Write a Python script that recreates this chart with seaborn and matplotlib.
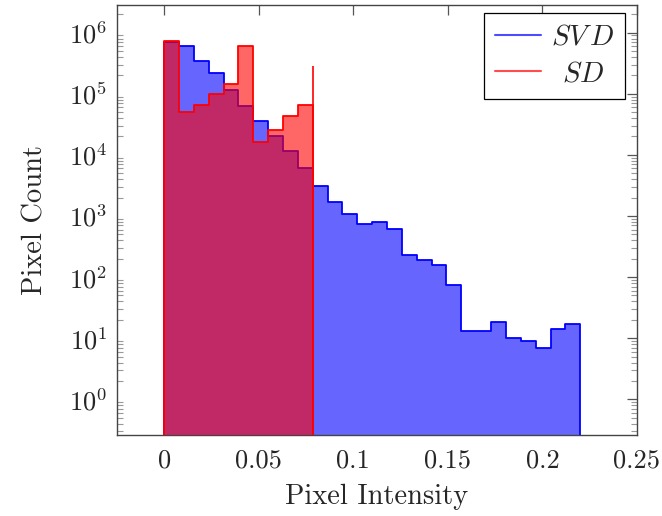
import numpy as np
import pandas as pd
import matplotlib
matplotlib.use("Agg")
import matplotlib.pyplot as plt
import seaborn as sns
from matplotlib.lines import Line2D
from matplotlib.ticker import LogLocator, FixedLocator, FixedFormatter, LogFormatterSciNotation, NullFormatter

# ---- data ----
svd_counts = [7.0e5, 6.0e5, 3.5e5, 2.16e5, 1.15e5, 6.3e4, 3.55e4, 2.06e4, 1.17e4, 6.1e3,
              3.06e3, 1.71e3, 1.08e3, 731, 807, 612, 230, 188, 156, 74,
              13, 13, 18.2, 10, 9.1, 7.0, 14, 17.1]
sd_counts = [7.4e5, 5.1e4, 6.6e4, 9.9e4, 1.45e5, 6.1e5, 1.6e4, 2.6e4, 4.3e4, 6.5e4]
sd_spike = 2.85e5
svd_range = (0.0, 0.22)
sd_range = (0.0, 0.0786)
x_ticks = [0, 0.05, 0.1, 0.15, 0.2, 0.25]
x_tick_labels = ["0", "0.05", "0.1", "0.15", "0.2", "0.25"]
series_labels = [r"$SV\,D$", r"$\;\,SD$"]
x_label = "Pixel Intensity"
y_label = "Pixel Count"

sns.set_theme(style="white")
plt.rcParams["font.family"] = ["cmr10", "DejaVu Serif"]
plt.rcParams["mathtext.fontset"] = "cm"
plt.rcParams["axes.formatter.use_mathtext"] = True
plt.rcParams["axes.unicode_minus"] = False

fig = plt.figure(figsize=(6.62, 5.16), dpi=100)
ax = fig.add_axes([117 / 662, 1 - 435.3 / 516, (637 - 117) / 662, (435.3 - 5) / 516])
ax.set_yscale("log")

def make_df(counts, rng):
    edges = np.linspace(rng[0], rng[1], len(counts) + 1)
    centers = (edges[:-1] + edges[1:]) / 2
    return pd.DataFrame({"x": centers, "w": counts}), [float(e) for e in edges]

svd_df, svd_edges = make_df(svd_counts, svd_range)
sd_df, sd_edges = make_df(sd_counts, sd_range)

ymin, ymax = 10 ** -0.589, 10 ** 6.453

sns.histplot(data=svd_df, x="x", weights="w", bins=svd_edges, element="step", fill=True,
             facecolor=(0, 0, 1, 0.6), edgecolor=(0, 0, 1, 1), linewidth=1.3, ax=ax, zorder=2)
sns.histplot(data=sd_df, x="x", weights="w", bins=sd_edges, element="step", fill=True,
             facecolor=(1, 0, 0, 0.6), edgecolor=(1, 0, 0, 1), linewidth=1.3, ax=ax, zorder=3)
ax.vlines([sd_range[1]], ymin, sd_spike, color=(1, 0, 0), linewidth=1.2, zorder=4)

ax.set_xlim(-0.0249, 0.25)
ax.set_ylim(ymin, ymax)

ax.xaxis.set_major_locator(FixedLocator(x_ticks))
ax.xaxis.set_major_formatter(FixedFormatter(x_tick_labels))
ax.yaxis.set_major_locator(LogLocator(base=10, numticks=20))
ax.yaxis.set_minor_locator(LogLocator(base=10, subs=np.arange(2, 10), numticks=20))
ax.yaxis.set_major_formatter(LogFormatterSciNotation())
ax.yaxis.set_minor_formatter(NullFormatter())

ax.tick_params(axis="both", which="major", direction="in", top=True, right=True,
               length=7, width=0.9, color="#555555", labelsize=19, pad=7)
ax.tick_params(axis="y", which="minor", direction="in", left=True, right=True,
               length=4, width=0.8, color="#999999")
ax.tick_params(axis="x", which="major", pad=10)

for s in ax.spines.values():
    s.set_color("#444444")
    s.set_linewidth(1.0)
    s.set_visible(True)

ax.set_xlabel(x_label, fontsize=20.5, labelpad=8)
ax.set_ylabel(y_label, fontsize=20.5, labelpad=15)

handles = [Line2D([], [], color=(0.3, 0.3, 1.0), lw=1.5),
           Line2D([], [], color=(1.0, 0.3, 0.3), lw=1.5)]
leg = ax.legend(handles, series_labels, loc="upper right", bbox_to_anchor=(0.977, 0.981),
                borderaxespad=0, fancybox=False, framealpha=1, edgecolor="black",
                fontsize=20.5, handlelength=1.6, handletextpad=0.35, borderpad=0.4,
                labelspacing=0.35)
leg.get_frame().set_linewidth(0.9)

fig.savefig("out.png", dpi=100)
